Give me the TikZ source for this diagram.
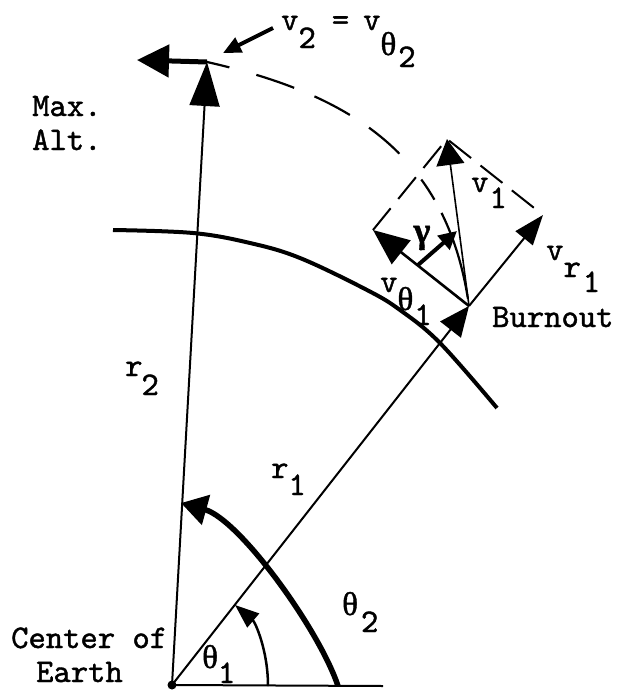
\documentclass[tikz,border=0pt]{standalone}
\usepackage{fontspec}
\newfontfamily\grk[FakeBold=1.2]{Liberation Serif}
\newfontfamily\tw[Extension=.otf,FakeBold=1.3]{lmmono10-regular}
\usetikzlibrary{arrows.meta}
\newcommand\lowr[2]{\raisebox{-#1pt}{#2}}
\begin{document}
\begin{tikzpicture}[x=1pt,y=-1pt,
  lbl/.style={inner sep=0pt, anchor=base west, font=\fontsize{33}{36}\selectfont\tw},
  radius/.style={line width=2pt},
  dsh/.style={line width=2pt, dash pattern=on 28pt off 12pt},
  traj/.style={line width=2.2pt, dash pattern=on 23pt off 28pt on 40pt off 22pt on 40pt off 23pt on 40pt off 34pt on 24pt off 15pt on 90pt off 10pt},
]
\fill[white] (0,0) rectangle (620,691);
\useasboundingbox (0,0) rectangle (620,691);

% key points
\coordinate (C) at (172,685);
\coordinate (E) at (383,686);
\coordinate (M) at (207,62);
\coordinate (V2) at (137,60);
\coordinate (B) at (469,306);
\coordinate (Vt) at (373,230);
\coordinate (Vr) at (543,215);
\coordinate (V1) at (447,139);
\coordinate (G0) at (418,265);
\coordinate (G1) at (457,231);
\coordinate (L0) at (273,28);
\coordinate (L1) at (223,53);
\coordinate (A1s) at (268,686);
\coordinate (A1e) at (235,605);
\coordinate (A2s) at (338,686);
\coordinate (A2e) at (181,503);

% earth surface
\draw[line width=4pt] plot[smooth, tension=0.6] coordinates {(113,230) (193,233) (250,243) (300,258) (367,290) (400,310) (440,343) (497,408)};

% baseline and radii
\draw[line width=2pt] (C) -- (E);
\draw[radius, -{Triangle[length=44pt,width=30pt]}] (C) -- (M);
\draw[radius, -{Triangle[length=30pt,width=26pt]}] (C) -- (B);
\fill (C) circle (4.5);

% angle arcs
\draw[line width=2.5pt, -{Triangle[length=24pt,width=18pt]}] (A1s) .. controls (268,650) and (255,622) .. (A1e);
\draw[line width=5.5pt, -{Triangle[length=26pt,width=30pt]}] (A2s) .. controls (319,629) and (239,519) .. (A2e);

% trajectory
\draw[traj] (M) .. controls (354,95) and (448,157) .. (B);

% velocity at max altitude
\draw[line width=5pt, -{Triangle[length=32pt,width=32pt]}] (M) -- (V2);

% velocities at burnout
\draw[line width=1.6pt, -{Triangle[length=26pt,width=28pt]}] (B) -- (V1);
\draw[line width=2.6pt, -{Triangle[length=36pt,width=30pt]}] (B) -- (Vt);
\draw[line width=2pt, -{Triangle[length=30pt,width=22pt]}] (B) -- (Vr);
\draw[dsh] (Vt) -- (V1) -- (Vr);

% gamma arrow and label pointer
\draw[line width=4pt, -{Triangle[length=18pt,width=18pt]}] (G0) -- (G1);
\draw[line width=4pt, -{Triangle[length=18pt,width=16pt]}] (L0) -- (L1);

% labels
\node[lbl] (lv2) at (281,30) {v\lowr{18}{2}\kern16pt=\kern14pt v\lowr{25}{{\grk θ}\kern2pt\lowr{12}{2}}};
\node[lbl] (lvt) at (380,292) {v\lowr{18}{{\grk θ}\kern1pt\lowr{15}{1}}};
\node[lbl] (lvr) at (546,260) {v\lowr{17}{r\kern2pt\lowr{15}{1}}};
\node[lbl] (lv1) at (471,192) {v\kern1pt\lowr{16}{1}};
\node[lbl] (lr2) at (125,376) {r\kern-1pt\lowr{19}{2}};
\node[lbl] (lr1) at (271,478) {r\lowr{17}{1}};
\node[lbl] (lt2) at (342,615) {{\grk θ}\kern3pt\lowr{17}{2}};
\node[lbl] (lt1) at (202,668) {{\grk θ}\lowr{15}{1}};
\node[inner sep=0pt, font=\fontsize{36}{40}\selectfont\grk\bfseries] (lg) at (422,238) {γ};
\node[lbl] (lmax) at (32,116) {Max.};
\node[lbl] (lalt) at (32,150) {Alt.};
\node[lbl] (lcen) at (11,648) {Center of};
\node[lbl] (lear) at (36,682) {Earth};
\node[lbl] (lbo) at (492,327) {Burnout};
\end{tikzpicture}
\end{document}
